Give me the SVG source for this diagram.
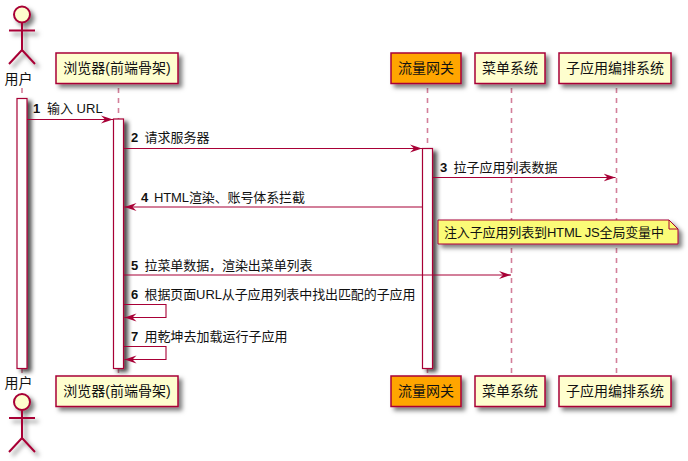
<svg xmlns="http://www.w3.org/2000/svg" width="688" height="461" viewBox="0 0 688 461">
<style>
text{font-family:"Liberation Sans","Noto Sans CJK SC",sans-serif;font-size:13px;fill:#111}
.n{font-weight:bold}
.p{fill:#FEFECE;stroke:#A80036;stroke-width:1.5}
.a{fill:#fff;stroke:#A80036;stroke-width:1.2}
.l{stroke:#A80036;stroke-width:1.6;stroke-dasharray:5 5;opacity:.5;fill:none}
.m{stroke:#A80036;stroke-width:1.1;fill:none}
.actor{fill:none;stroke:#A80036;stroke-width:2}
.t{font-size:14px;text-anchor:middle}
</style>
<defs>
<marker id="arrow" markerUnits="userSpaceOnUse" markerWidth="14" markerHeight="10" refX="12" refY="5" orient="auto">
<path d="M0,1 L12,5 L0,9 L4,5 Z" fill="#A80036"/>
</marker>
<filter id="s" x="-30%" y="-30%" width="170%" height="170%"><feDropShadow dx="3.500" dy="3.500" stdDeviation="2" flood-color="#000" flood-opacity=".5"/></filter>
<filter id="sa" x="-100%" y="-5%" width="300%" height="110%"><feDropShadow dx="4" dy="3" stdDeviation="2" flood-color="#000" flood-opacity=".7"/></filter>
</defs>
<rect width="688" height="461" fill="#fff"/>
<g id="lifelines">
<path class="l" d="M22 88V376M118.500 88V376M427.500 88V376M511.500 88V376M616.500 88V376"/>
</g>
<g id="user"><g filter="url(#s)"><circle cx="22" cy="14.500" r="8" fill="#FEFECE" stroke="#A80036" stroke-width="2"/><path class="actor" d="M22 22.500V50M9 30.500H35M22 50L9 64M22 50L35 64"/></g><text x="18.500" y="84" class="t">用户</text></g>
<g id="browser"><rect class="p" x="56" y="53" width="122" height="30.500" filter="url(#s)"/><text x="117" y="73" class="t">浏览器(前端骨架)</text></g>
<g id="gateway"><rect x="391" y="53" width="70" height="30.500" fill="#FFA500" stroke="#A80036" stroke-width="1.500" filter="url(#s)"/><text x="426" y="73" class="t">流量网关</text></g>
<g id="menu"><rect class="p" x="475" y="53" width="70" height="30.500" filter="url(#s)"/><text x="510" y="73" class="t">菜单系统</text></g>
<g id="subapp"><rect class="p" x="559" y="53" width="112" height="30.500" filter="url(#s)"/><text x="615" y="73" class="t">子应用编排系统</text></g>
<g id="activations">
<rect class="a" x="17" y="98.500" width="10" height="270" filter="url(#sa)"/>
<rect class="a" x="113.500" y="119" width="10" height="249.500" filter="url(#sa)"/>
<rect class="a" x="422.500" y="148.500" width="10" height="220" filter="url(#sa)"/>
</g>
<g id="connectors">
<path class="m" marker-end="url(#arrow)" d="M27 119.500H113"/>
<path class="m" marker-end="url(#arrow)" d="M124 148.500H422"/>
<path class="m" marker-end="url(#arrow)" d="M433 177.500H615.500"/>
<path class="m" marker-end="url(#arrow)" d="M422 207H124.500"/>
<path class="m" marker-end="url(#arrow)" d="M124 275H511"/>
<path class="m" marker-end="url(#arrow)" d="M124 304.500H166V317.500H124.500"/>
<path class="m" marker-end="url(#arrow)" d="M124 346.500H166V359.500H124.500"/>
</g>
<g id="labels">
<text x="33" y="113" class="n">1</text><text x="47" y="113">输入 URL</text>
<text x="131" y="142" class="n">2</text><text x="144.500" y="142">请求服务器</text>
<text x="440" y="172" class="n">3</text><text x="453.500" y="172">拉子应用列表数据</text>
<text x="141" y="201.500" class="n">4</text><text x="154" y="201.500" textLength="151">HTML渲染、账号体系拦截</text>
<text x="131" y="270" class="n">5</text><text x="144.500" y="270" textLength="168">拉菜单数据，渲染出菜单列表</text>
<text x="131" y="299" class="n">6</text><text x="144.500" y="299" textLength="271">根据页面URL从子应用列表中找出匹配的子应用</text>
<text x="131" y="341" class="n">7</text><text x="144.500" y="341">用乾坤去加载运行子应用</text>
</g>
<g id="note">
<path d="M438 220H669L678 229V244H438Z" fill="#FBFB77" stroke="#A80036" stroke-width="1" filter="url(#s)"/>
<path d="M669 220V229H678" fill="none" stroke="#A80036" stroke-width="1"/>
<text x="444" y="237" textLength="220">注入子应用列表到HTML JS全局变量中</text>
</g>
<g id="user-bottom"><text x="18.500" y="388" class="t">用户</text><g filter="url(#s)"><circle cx="22" cy="402" r="8" fill="#FEFECE" stroke="#A80036" stroke-width="2"/><path class="actor" d="M22 410V438M9 418H35M22 438L9 452M22 438L35 452"/></g></g>
<g id="browser-bottom"><rect class="p" x="56" y="376" width="122" height="30.500" filter="url(#s)"/><text x="117" y="396" class="t">浏览器(前端骨架)</text></g>
<g id="gateway-bottom"><rect x="391" y="376" width="70" height="30.500" fill="#FFA500" stroke="#A80036" stroke-width="1.500" filter="url(#s)"/><text x="426" y="396" class="t">流量网关</text></g>
<g id="menu-bottom"><rect class="p" x="475" y="376" width="70" height="30.500" filter="url(#s)"/><text x="510" y="396" class="t">菜单系统</text></g>
<g id="subapp-bottom"><rect class="p" x="559" y="376" width="112" height="30.500" filter="url(#s)"/><text x="615" y="396" class="t">子应用编排系统</text></g>
</svg>
